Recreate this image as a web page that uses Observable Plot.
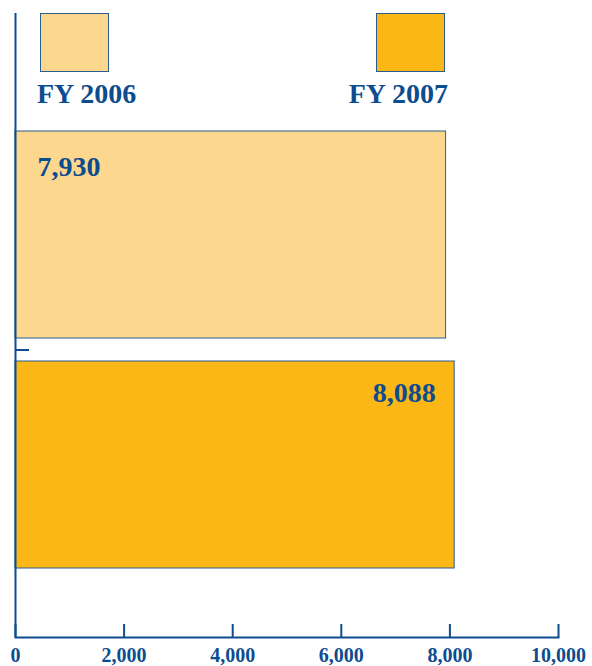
<!DOCTYPE html>
<html>
<head>
<meta charset="utf-8">
<script src="https://cdn.jsdelivr.net/npm/d3@7"></script>
<script src="https://cdn.jsdelivr.net/npm/@observablehq/plot@0.6"></script>
<style>
  html, body { margin: 0; padding: 0; background: #fff; }
  #wrap { position: relative; width: 592px; height: 666px; }
  .sw { position: absolute; box-sizing: border-box; border: 1px solid #2a5d8f; width: 69px; height: 59px; top: 13px; }
  .lab { position: absolute; top: 78px; font: bold 28px "Liberation Serif", serif; color: #0d4c8f; white-space: nowrap; }
</style>
</head>
<body>
<div id="wrap"></div>
<script>
const years = ["FY 2006", "FY 2007"];
const values = [7930, 8088];
const valueLabels = ["7,930", "8,088"];
const xTicks = [0, 2000, 4000, 6000, 8000, 10000];
const colors = ["#fdd78e", "#fbb715"];
const blue = "#0d4c8f";

const data = years.map((y, i) => ({year: y, value: values[i], label: valueLabels[i], color: colors[i]}));

const chart = Plot.plot({
  width: 592,
  height: 666,
  marginTop: 13,
  marginBottom: 29,
  marginLeft: 15,
  marginRight: 34,
  style: {fontFamily: "'Liberation Serif', serif", background: "#fff"},
  x: {domain: [0, 10000], axis: null},
  y: {type: "band", domain: years, range: [119.5, 579.5], paddingInner: 0.1, paddingOuter: 0.05, axis: null},
  marks: [
    Plot.barX(data, {x: "value", y: "year", fill: "color", stroke: "#2a5d8f", strokeWidth: 1}),
    Plot.ruleX([0], {stroke: blue, strokeWidth: 2}),
    Plot.frame({anchor: "bottom", stroke: blue, strokeWidth: 2}),
    Plot.axisX({ticks: xTicks, tickSize: -13, tickPadding: 23, tickFormat: d => d3.format(",")(d),
      stroke: blue, strokeWidth: 2, fill: blue, fontSize: 20, fontWeight: "bold", label: null}),
    Plot.axisY({ticks: ["FY 2007"], tickSize: -14, tickFormat: () => "", dy: -115, stroke: blue, strokeWidth: 2, label: null}),
    Plot.text(data.slice(0, 1), {x: 0, y: "year", text: "label", dx: 22, dy: -68, textAnchor: "start",
      fill: blue, fontSize: 28, fontWeight: "bold"}),
    Plot.text(data.slice(1), {x: "value", y: "year", text: "label", dx: -19, dy: -72, textAnchor: "end",
      fill: blue, fontSize: 28, fontWeight: "bold"})
  ]
});

const wrap = document.getElementById("wrap");
wrap.appendChild(chart);

// legend
const legendPos = [{left: 40, labLeft: 37, align: "left"}, {left: 376, labRight: 144, align: "right"}];
years.forEach((y, i) => {
  const sw = document.createElement("div");
  sw.className = "sw";
  sw.style.left = legendPos[i].left + "px";
  sw.style.background = colors[i];
  wrap.appendChild(sw);
  const lab = document.createElement("div");
  lab.className = "lab";
  lab.textContent = y;
  if (legendPos[i].align === "left") lab.style.left = legendPos[i].labLeft + "px";
  else lab.style.right = legendPos[i].labRight + "px";
  wrap.appendChild(lab);
});
</script>
</body>
</html>
